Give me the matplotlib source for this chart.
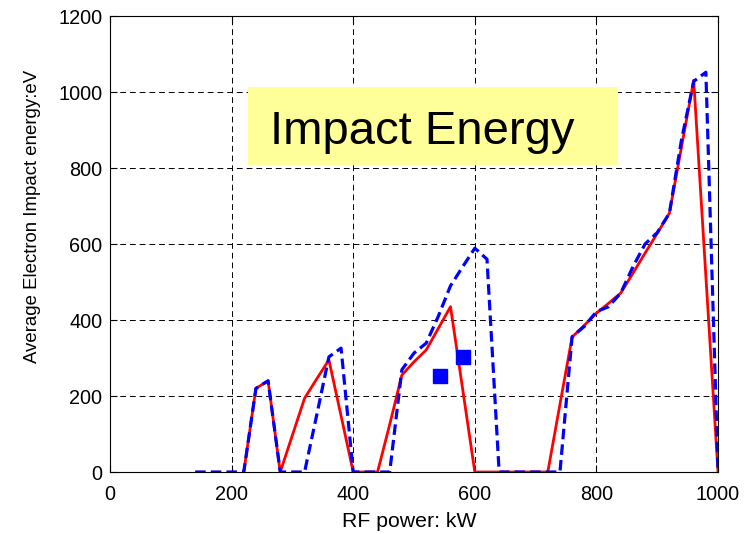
import numpy as np
import matplotlib.pyplot as plt
from matplotlib.patches import Rectangle

plt.rcParams['font.family'] = ['Liberation Sans', 'DejaVu Sans']

# RF power (kW) and average electron impact energy (eV)
power_sim = [220, 240, 260, 280, 300, 320, 340, 360, 380, 400, 420, 440, 460,
             480, 500, 520, 540, 560, 580, 600, 620, 640, 660, 680, 700, 720,
             740, 760, 780, 800, 820, 840, 860, 880, 900, 920, 940, 960, 980,
             1000]
energy_sim = [0, 220, 240, 0, 97, 194, 245, 295, 148, 0, 0, 0, 125,
              255, 290, 321, 378, 435, 218, 0, 0, 0, 0, 0, 0, 0,
              178, 355, 386, 418, 444, 471, 523, 576, 628, 681, 856, 1031, 515,
              0]

power_mod = [140, 160, 180, 200, 220, 240, 260, 280, 300, 320, 340, 360, 380,
             400, 420, 440, 460, 480, 500, 520, 540, 560, 580, 600, 620, 640,
             660, 680, 700, 720, 740, 760, 780, 800, 820, 840, 860, 880, 900,
             920, 940, 960, 980, 1000]
energy_mod = [0, 0, 0, 0, 0, 220, 240, 0, 0, 0, 150, 303, 326,
              0, 0, 0, 0, 269, 313, 339, 410, 490, 540, 589, 560, 0,
              0, 0, 0, 0, 0, 356, 383, 422, 435, 471, 540, 600, 630,
              681, 875, 1028, 1052, 0]

# measured points
power_meas = [543, 580]
energy_meas = [253, 302]

fig = plt.figure(figsize=(7.54, 5.34), dpi=100)
ax = fig.add_axes([0.1459, 0.1161, 0.8064, 0.8539])

ax.plot(power_sim, energy_sim, color='#ff0000', lw=2.0, zorder=3)
ax.plot(power_mod, energy_mod, color='#0000ff', lw=2.3,
        dashes=(3.3, 1.6), zorder=4)
ax.plot(power_meas, energy_meas, 's', color='#0000ff', ms=10, zorder=5)

ax.set_xlim(0, 1000)
ax.set_ylim(0, 1200)
ax.set_xticks(np.arange(0, 1001, 200))
ax.set_yticks(np.arange(0, 1201, 200))
ax.grid(True, color='black', ls=(0, (6, 4)), lw=0.7)
ax.set_axisbelow(True)
ax.tick_params(direction='in', labelsize=14.3, length=5, top=True, right=True)
ax.tick_params(axis='x', pad=9)
ax.tick_params(axis='y', pad=5.5)
for s in ax.spines.values():
    s.set_linewidth(0.8)

ax.set_xlabel('RF power: kW', fontsize=15.3, va='baseline')
ax.xaxis.set_label_coords(0.492, -0.1206)
ax.set_ylabel('Average Electron Impact energy:eV', fontsize=13.4)
ax.yaxis.set_label_coords(-0.1135, 0.561)

# title box inside the axes
ax.add_patch(Rectangle((0.227, 0.673), 0.6085, 0.171, transform=ax.transAxes,
                       fc='#ffff99', ec='none', zorder=6))
ax.text(0.263, 0.719, 'Impact Energy', transform=ax.transAxes, fontsize=34,
        va='baseline', ha='left', zorder=7)

fig.savefig('out.png', dpi=100)
